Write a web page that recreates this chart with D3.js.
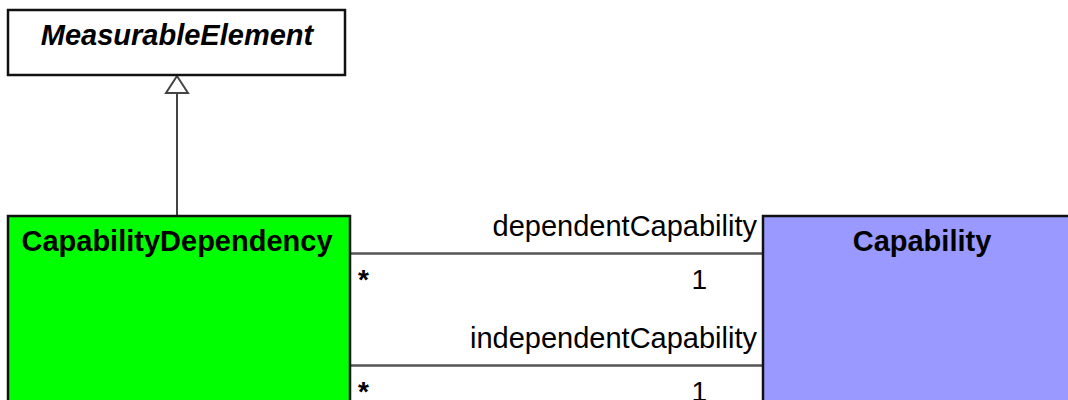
<!DOCTYPE html>
<html><head><meta charset="utf-8">
<script src="https://cdn.jsdelivr.net/npm/d3@7"></script>
<style>body{margin:0;background:#fff}svg{display:block}text{font-family:"Liberation Sans",Arial,sans-serif}</style>
</head><body>
<script>
const classNames = ["MeasurableElement", "CapabilityDependency", "Capability"];
const classItalic = [true, false, false];
const classFill = ["#ffffff", "#00ff00", "#9999ff"];
const roleNames = ["dependentCapability", "independentCapability"];
const sourceMult = ["*", "*"];
const targetMult = ["1", "1"];

const W = 1068, H = 400;
const svg = d3.select("body").append("svg").attr("width", W).attr("height", H);

// layout
const boxes = [
  {x: 8, y: 10, w: 337, h: 65, tx: 177},
  {x: 8, y: 216, w: 342, h: 300, tx: 177},
  {x: 763, y: 216, w: 320, h: 300, tx: 922}
];
const lineY = d3.scaleOrdinal().domain(roleNames).range([253.5, 365.5]);

// generalization
const gx = 177;
svg.append("line").attr("x1", gx).attr("x2", gx).attr("y1", 93).attr("y2", 216)
  .attr("stroke", "#444").attr("stroke-width", 2);
svg.append("path").attr("d", d3.line()([[gx, 76], [gx - 11, 93], [gx + 11, 93]]) + "Z")
  .attr("fill", "#fff").attr("stroke", "#444").attr("stroke-width", 2);

// associations
const assoc = svg.selectAll("g.assoc").data(roleNames).join("g");
assoc.append("line").attr("x1", 351).attr("x2", 763)
  .attr("y1", d => lineY(d)).attr("y2", d => lineY(d))
  .attr("stroke", "#555").attr("stroke-width", 2.5);
assoc.append("text").attr("x", 757).attr("y", d => lineY(d) - 18)
  .attr("text-anchor", "end").attr("font-size", 29).text(d => d);
assoc.append("text").attr("x", 358).attr("y", (d, i) => lineY(d) + 35)
  .attr("font-size", 28).attr("font-weight", "bold").text((d, i) => sourceMult[i]);
assoc.append("text").attr("x", 707).attr("y", (d, i) => lineY(d) + 35)
  .attr("text-anchor", "end").attr("font-size", 28).text((d, i) => targetMult[i]);

// classes
const cls = svg.selectAll("g.cls").data(classNames).join("g");
cls.append("rect")
  .attr("x", (d, i) => boxes[i].x).attr("y", (d, i) => boxes[i].y)
  .attr("width", (d, i) => boxes[i].w).attr("height", (d, i) => boxes[i].h)
  .attr("fill", (d, i) => classFill[i]).attr("stroke", "#111").attr("stroke-width", 2.5);
cls.append("text")
  .attr("x", (d, i) => boxes[i].tx).attr("y", (d, i) => boxes[i].y + 35)
  .attr("text-anchor", "middle").attr("font-size", 29).attr("font-weight", "bold")
  .attr("font-style", (d, i) => classItalic[i] ? "italic" : "normal")
  .text(d => d);
</script>
</body></html>
